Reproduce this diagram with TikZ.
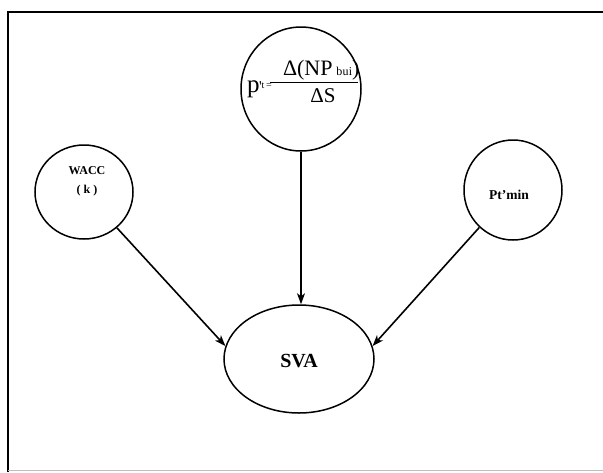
\documentclass[tikz,border=0pt]{standalone}
\usepackage{fontspec}
\setmainfont{Liberation Serif}
\usetikzlibrary{shapes.geometric,arrows.meta}
\tikzset{
  bub/.style={draw, ellipse, line width=1.5pt, inner sep=0pt},
  lbl/.style={font=\bfseries\fontsize{12}{18}\selectfont, align=center, inner sep=0pt},
  ftxt/.style={inner sep=0pt, outer sep=0pt},
  arr/.style={line width=1.6pt, -{Stealth[length=11pt,width=8pt,inset=3pt]}},
}
\begin{document}
\begin{tikzpicture}[x=1pt,y=-1pt]
\useasboundingbox (0,0) rectangle (603,472);
% frame
\draw[line width=2.2pt] (8,472) -- (8,12) -- (603,12);
\draw[line width=0.8pt, black!25] (8,470) -- (603,470);
% nodes
\node[bub, minimum width=120pt, minimum height=124pt] (top) at (301,89) {};
% formula p'_t = Delta(NP_bui)/Delta S
\node[ftxt, anchor=base west, font=\fontsize{25}{25}\selectfont] (pp) at (247,92)
  {p\kern-0.5pt\raisebox{1pt}{\fontsize{15}{15}\selectfont\textquotesingle}};
\node[ftxt, anchor=base west, yshift=4pt, font=\fontsize{10}{10}\selectfont] (sub) at (pp.base east) {t\,=};
\draw[line width=0.9pt] (270,82) -- (358,82);
\node[ftxt, anchor=base west, font=\fontsize{22}{22}\selectfont] (num) at (283,75)
  {Δ(NP\,{\fontsize{12}{12}\selectfont b\kern0.3pt u\kern0.3pt i})};
\node[ftxt, anchor=base, font=\fontsize{21}{21}\selectfont] (den) at (323,102) {ΔS};
\node[bub, minimum width=98pt, minimum height=94pt] (wacc) at (84,192) {};
\node[lbl] (waccl) at (87,181) {WACC\\[1pt]( k )};
\node[bub, minimum width=98pt, minimum height=100pt] (pmin) at (513,190) {};
\node[lbl, font=\bfseries\fontsize{13.5}{16}\selectfont] (pminl) at (509,195) {Pt’min};
\node[bub, minimum width=150pt, minimum height=108pt] (sva) at (299,359) {};
\node[lbl, font=\bfseries\fontsize{20}{24}\selectfont] (saval) at (299,361) {SVA};
% connectors
\draw[arr] (top) -- (top |- sva.north);
\draw[arr] (wacc) -- (sva.170);
\draw[arr] (pmin) -- (sva.10);
\end{tikzpicture}
\end{document}
